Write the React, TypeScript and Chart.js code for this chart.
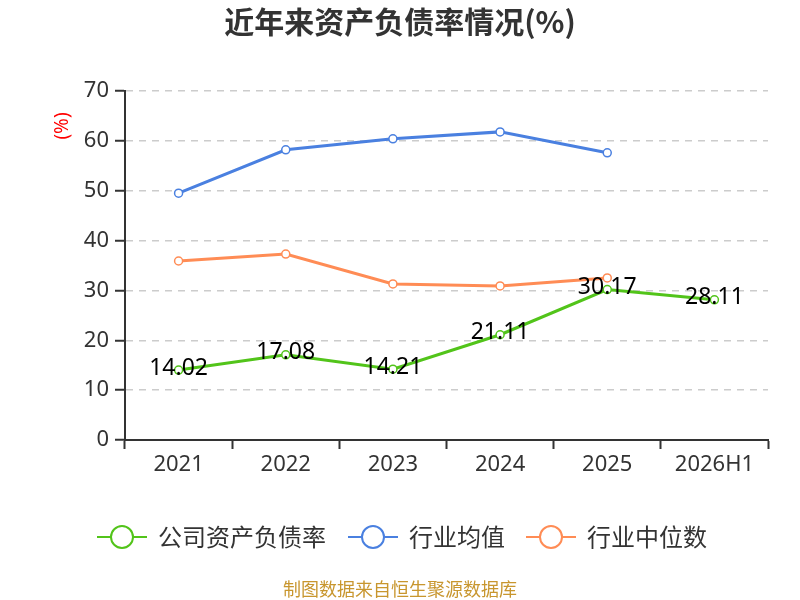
import { useEffect, useRef } from 'react';
import { Chart, registerables } from 'chart.js';

Chart.register(...registerables);

const years = ['2021', '2022', '2023', '2024', '2025', '2026H1'];
const companyRatio = [14.02, 17.08, 14.21, 21.11, 30.17, 28.11];
const industryAvg = [49.5, 58.2, 60.4, 61.8, 57.6, null];
const industryMedian = [35.9, 37.3, 31.3, 30.9, 32.5, null];

const GREEN = '#52c41a';
const BLUE = '#4a80e0';
const ORANGE = '#ff8c55';
const FONT = '"Noto Sans", "Noto Sans CJK SC", sans-serif';
const CJK = '"Noto Sans CJK SC", "Noto Sans", sans-serif';

const legendItems = [
  { text: '公司资产负债率', color: GREEN, x: 97 },
  { text: '行业均值', color: BLUE, x: 348 },
  { text: '行业中位数', color: ORANGE, x: 526 },
];

// title, y-axis unit, data labels, legend and footer
const decorPlugin = {
  id: 'decor',
  afterDatasetsDraw(chart: any) {
    const { ctx } = chart;
    ctx.save();

    // data labels on the company series
    const meta = chart.getDatasetMeta(0);
    ctx.font = `23px ${FONT}`;
    ctx.fillStyle = '#000';
    ctx.textAlign = 'center';
    ctx.textBaseline = 'middle';
    meta.data.forEach((pt: any, i: number) => {
      ctx.fillText(companyRatio[i].toFixed(2), pt.x, pt.y - 2);
    });

    // title
    ctx.font = `bold 30px ${CJK}`;
    ctx.fillStyle = '#333';
    ctx.fillText('近年来资产负债率情况(%)', 400, 22);

    // y unit
    ctx.save();
    ctx.translate(63, 126);
    ctx.rotate(-Math.PI / 2);
    ctx.font = `19px ${FONT}`;
    ctx.fillStyle = '#f00';
    ctx.fillText('(%)', 0, 0);
    ctx.restore();

    // legend
    const ly = 537;
    legendItems.forEach((item) => {
      ctx.strokeStyle = item.color;
      ctx.lineWidth = 2;
      ctx.beginPath();
      ctx.moveTo(item.x, ly);
      ctx.lineTo(item.x + 50, ly);
      ctx.stroke();
      ctx.beginPath();
      ctx.arc(item.x + 25, ly, 11, 0, Math.PI * 2);
      ctx.fillStyle = '#fff';
      ctx.fill();
      ctx.stroke();
      ctx.font = `24px ${CJK}`;
      ctx.fillStyle = '#333';
      ctx.textAlign = 'left';
      ctx.fillText(item.text, item.x + 61, ly);
    });

    // footer
    ctx.textAlign = 'center';
    ctx.font = `18px ${CJK}`;
    ctx.fillStyle = '#c8962e';
    ctx.fillText('制图数据来自恒生聚源数据库', 400, 589);

    ctx.restore();
  },
};

function lineSet(label: string, data: (number | null)[], color: string) {
  return {
    label,
    data,
    borderColor: color,
    backgroundColor: '#fff',
    borderWidth: 3,
    pointRadius: 4,
    pointBorderWidth: 1.5,
    pointBackgroundColor: '#fff',
    pointBorderColor: color,
    tension: 0,
  };
}

function DebtRatioChart() {
  const chartRef = useRef<HTMLCanvasElement>(null);
  const chartInstance = useRef<Chart | null>(null);

  useEffect(() => {
    document.body.style.margin = '0';
    if (!chartRef.current) return;
    const ctx = chartRef.current.getContext('2d');
    if (!ctx) return;
    if (chartInstance.current) chartInstance.current.destroy();

    chartInstance.current = new Chart(ctx, {
      type: 'line',
      data: {
        labels: years,
        datasets: [
          lineSet('公司资产负债率', companyRatio, GREEN),
          lineSet('行业均值', industryAvg, BLUE),
          lineSet('行业中位数', industryMedian, ORANGE),
        ],
      },
      options: {
        animation: false,
        responsive: true,
        maintainAspectRatio: false,
        layout: { padding: { top: 91, right: 32, left: 0, bottom: 0 } },
        plugins: {
          legend: { display: false },
          title: { display: false },
          tooltip: { enabled: false },
        },
        scales: {
          x: {
            offset: true,
            afterFit: (scale: any) => {
              scale.height = 160;
            },
            grid: {
              offset: true,
              drawOnChartArea: false,
              drawTicks: true,
              tickLength: 9,
              tickWidth: 2,
              tickColor: '#333',
            },
            border: { color: '#333', width: 2 },
            ticks: {
              color: '#333',
              padding: 3,
              font: { size: 22, family: FONT },
            },
          },
          y: {
            min: 0,
            max: 70,
            afterFit: (scale: any) => {
              scale.width = 125;
            },
            grid: {
              color: '#cccccc',
              lineWidth: 1.5,
              tickLength: 10,
              tickColor: '#333',
              tickWidth: 2,
            },
            border: { color: '#333', width: 2, dash: [7, 6] },
            ticks: {
              stepSize: 10,
              color: '#333',
              padding: 6,
              font: { size: 22, family: FONT },
            },
          },
        },
      },
      plugins: [decorPlugin],
    });

    return () => {
      if (chartInstance.current) {
        chartInstance.current.destroy();
        chartInstance.current = null;
      }
    };
  }, []);

  return (
    <div style={{ width: 800, height: 600, position: 'relative' }}>
      <canvas ref={chartRef}></canvas>
    </div>
  );
}

export default function App() {
  return <DebtRatioChart />;
}
